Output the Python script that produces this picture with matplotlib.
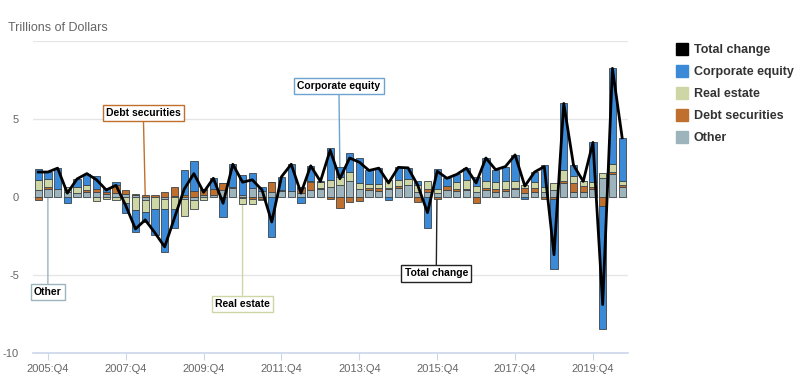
import numpy as np
import matplotlib
matplotlib.use("Agg")
import matplotlib.pyplot as plt
from matplotlib.lines import Line2D

plt.rcParams["font.family"] = ["Liberation Sans", "DejaVu Sans"]


# =========================
# DATA (trillions of dollars, quarterly 2005:Q3 - 2020:Q3)
# =========================

quarters = [f"{y}:Q{q}" for y in range(2005, 2021) for q in range(1, 5)][2:63]

corporate_equity = [
    0.70, 0.42, 1.35, -0.40, 0.50, 0.75, 0.85, 0.30, 0.15, -0.60,
    -1.40, -0.65, -1.70, -2.70, -1.20, 1.65, 1.90, 0.05, 0.70, -1.30,
    1.45, 1.30, 1.00, 0.25, -2.55, 0.85, 1.70, -0.40, 1.00, 0.05,
    2.05, 0.60, 1.20, 1.60, 0.85, 1.00, -0.20, 0.80, 0.70, 0.25,
    -2.00, 1.30, 0.50, 0.50, 0.75, 0.60, 1.50, 0.80, 0.95, 1.70,
    -0.10, 0.65, 1.40, -4.50, 4.30, 0.70, 0.00, 2.55, -7.85, 6.15,
    2.75,
]

real_estate = [
    0.65, 0.55, 0.00, 0.35, 0.38, 0.30, -0.25, -0.15, -0.20, -0.40,
    -0.85, -0.75, -0.75, -0.70, -0.80, -1.10, -0.60, -0.20, 0.00, 0.00,
    0.00, -0.40, -0.30, -0.10, 0.00, 0.00, 0.00, 0.10, 0.05, 0.35,
    0.45, 0.53, 0.60, 0.38, 0.30, 0.30, 0.50, 0.40, 0.40, 0.50,
    0.50, 0.25, 0.00, 0.45, 0.60, 0.40, 0.40, 0.45, 0.50, 0.45,
    0.20, 0.40, 0.30, 0.45, 0.70, 0.45, 0.30, 0.30, 0.35, 0.50,
    0.30,
]

debt_securities = [
    -0.20, 0.13, 0.00, 0.00, 0.00, 0.10, 0.15, 0.10, 0.55, 0.25,
    0.10, 0.13, 0.15, 0.30, 0.60, 0.10, 0.40, 0.35, 0.40, 0.45,
    0.05, -0.05, -0.15, -0.10, 0.60, 0.05, 0.00, 0.30, 0.50, 0.10,
    -0.15, -0.73, -0.30, -0.25, 0.10, 0.15, 0.10, 0.10, 0.00, -0.30,
    0.15, -0.15, 0.25, 0.10, 0.05, -0.40, 0.15, 0.15, 0.10, 0.05,
    0.35, 0.20, -0.10, -0.10, 0.10, 0.55, 0.40, 0.15, -0.60, 0.10,
    0.10,
]

other = [
    0.45, 0.50, 0.50, 0.30, 0.28, 0.35, 0.35, 0.20, 0.25, 0.20,
    0.10, -0.20, 0.00, -0.10, 0.05, -0.15, -0.20, 0.10, 0.10, 0.45,
    0.60, 0.10, 0.55, 0.40, 0.35, 0.40, 0.40, 0.25, 0.45, 0.50,
    0.65, 0.77, 1.00, 0.50, 0.45, 0.40, 0.50, 0.60, 0.77, 0.30,
    0.35, 0.25, 0.45, 0.40, 0.45, 0.30, 0.45, 0.35, 0.40, 0.50,
    0.25, 0.35, 0.35, 0.45, 0.90, 0.35, 0.30, 0.50, 1.20, 1.50,
    0.65,
]

total_change = [
    1.60, 1.60, 1.85, 0.25, 1.16, 1.50, 1.10, 0.45, 0.75, -0.55,
    -2.05, -1.47, -2.30, -3.20, -1.35, 0.50, 1.50, 0.30, 1.20, -0.40,
    2.10, 0.95, 1.10, 0.45, -1.60, 1.30, 2.10, 0.25, 2.00, 1.00,
    3.00, 1.17, 2.50, 2.23, 1.70, 1.85, 0.90, 1.90, 1.87, 0.75,
    -1.00, 1.65, 1.20, 1.45, 1.85, 0.90, 2.50, 1.75, 1.95, 2.70,
    0.70, 1.60, 1.95, -3.70, 6.00, 2.05, 1.00, 3.50, -6.90, 8.25,
    3.80,
]


# =========================
# STYLE
# =========================

colors = {
    "Corporate equity": "#3a8ad8",
    "Real estate": "#cfd6a6",
    "Debt securities": "#c0702e",
    "Other": "#9db4bd",
}

# stacking order from zero outward
stack = [
    ("Other", other),
    ("Debt securities", debt_securities),
    ("Real estate", real_estate),
    ("Corporate equity", corporate_equity),
]

x = np.arange(len(quarters))

fig = plt.figure(figsize=(8, 3.84), dpi=100)
ax = fig.add_axes([0.041, 0.081, 0.744, 0.812])


# =========================
# STACKED BARS
# =========================

pos_base = np.zeros(len(x))
neg_base = np.zeros(len(x))

for name, vals in stack:
    vals = np.array(vals)
    base = np.where(vals >= 0, pos_base, neg_base)
    ax.bar(x, vals, bottom=base, width=0.75, color=colors[name],
           edgecolor="#3c4448", linewidth=0.6, zorder=3)
    pos_base += np.clip(vals, 0, None)
    neg_base += np.clip(vals, None, 0)


# =========================
# TOTAL CHANGE LINE
# =========================

ax.plot(x, total_change, color="black", linewidth=2, zorder=5)


# =========================
# AXES
# =========================

ax.set_xlim(-0.55, 60.6)
ax.set_ylim(-10, 10)

ax.set_yticks([-10, -5, 0, 5, 10])
ax.set_yticklabels(["-10", "-5", "0", "5", ""])
ax.yaxis.grid(True, color="#e6e6e6", linewidth=1, zorder=0)
ax.tick_params(axis="y", length=0, labelsize=8, labelcolor="#666666", pad=10)

tick_idx = list(range(1, len(quarters), 8))
ax.set_xticks(tick_idx)
ax.set_xticklabels([quarters[i] for i in tick_idx])
ax.tick_params(axis="x", length=5, color="#ccd6eb", labelsize=8,
               labelcolor="#666666", pad=3)

for side in ["top", "right", "left"]:
    ax.spines[side].set_visible(False)
ax.spines["bottom"].set_color("#ccd6eb")
ax.spines["bottom"].set_linewidth(1.2)

fig.text(0.01, 0.918, "Trillions of Dollars", fontsize=9, color="#666666")


# =========================
# CALLOUT LABELS
# =========================

callouts = [
    ("Debt securities", 11, 0.1, 10.8, 5.4, "#c0702e"),
    ("Corporate equity", 31, 1.8, 30.9, 7.1, "#6fa3cf"),
    ("Other", 1, 0.0, 1.0, -6.1, "#9db4bd"),
    ("Real estate", 21, -0.4, 21.0, -6.85, "#cfd6a6"),
    ("Total change", 41, 1.65, 40.9, -4.9, "#222222"),
]

for label, px, py, tx, ty, c in callouts:
    ax.annotate(
        label, xy=(px, py), xytext=(tx, ty),
        ha="center", va="center", fontsize=7.5, fontweight="bold",
        color="black",
        bbox=dict(boxstyle="square,pad=0.3", fc="white", ec=c, lw=1),
        arrowprops=dict(arrowstyle="-", color=c, lw=1,
                        shrinkA=0, shrinkB=0),
        zorder=2,
    )


# =========================
# LEGEND
# =========================

handles = [Line2D([], [], marker="s", linestyle="none", markersize=8,
                  color="black", label="Total change")]
for name in ["Corporate equity", "Real estate", "Debt securities", "Other"]:
    handles.append(Line2D([], [], marker="s", linestyle="none",
                          markersize=8, color=colors[name], label=name))

leg = fig.legend(handles=handles, loc="upper left",
                 bbox_to_anchor=(0.83, 0.915), frameon=False,
                 fontsize=9, labelspacing=0.8, handletextpad=0.5,
                 handlelength=1.0)
for t in leg.get_texts():
    t.set_color("#333333")
    t.set_fontweight("bold")

plt.savefig("out.png", dpi=100)
